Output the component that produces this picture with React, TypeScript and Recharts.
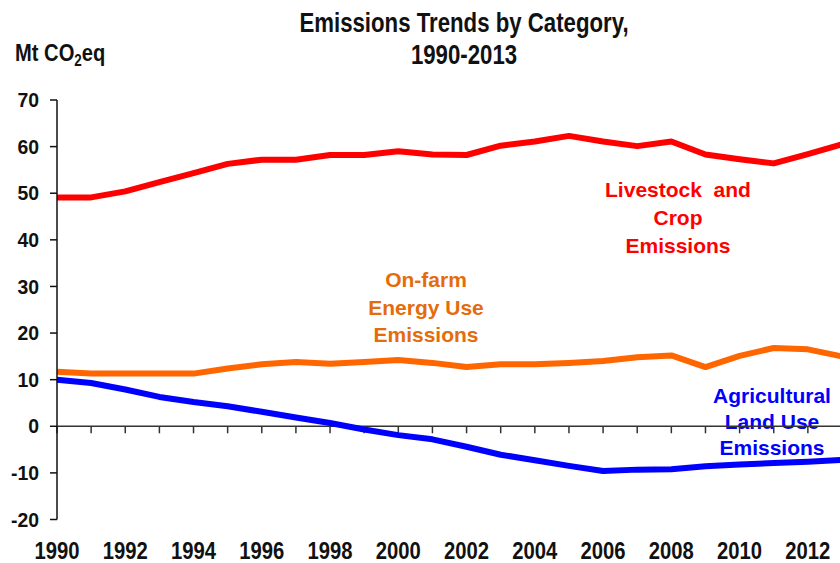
import React from 'react';
import { LineChart, Line, XAxis, YAxis, ReferenceLine } from 'recharts';

// Mt CO2eq per year
const years = [
  1990, 1991, 1992, 1993, 1994, 1995, 1996, 1997, 1998, 1999, 2000, 2001,
  2002, 2003, 2004, 2005, 2006, 2007, 2008, 2009, 2010, 2011, 2012, 2013,
];
const livestockCrop = [
  49.1, 49.1, 50.4, 52.4, 54.3, 56.3, 57.2, 57.2, 58.2, 58.2, 59.0, 58.3,
  58.2, 60.2, 61.1, 62.3, 61.1, 60.1, 61.1, 58.3, 57.3, 56.4, 58.4, 60.5,
];
const onFarmEnergy = [
  11.7, 11.3, 11.3, 11.3, 11.3, 12.4, 13.3, 13.8, 13.4, 13.8, 14.2, 13.6,
  12.7, 13.3, 13.3, 13.6, 14.0, 14.8, 15.2, 12.7, 15.1, 16.8, 16.5, 15.0,
];
const landUse = [
  10.0, 9.3, 7.9, 6.3, 5.2, 4.3, 3.1, 1.9, 0.7, -0.7, -1.9, -2.8,
  -4.4, -6.1, -7.3, -8.5, -9.6, -9.3, -9.2, -8.6, -8.2, -7.9, -7.6, -7.2,
];

const xTicks = [1990, 1992, 1994, 1996, 1998, 2000, 2002, 2004, 2006, 2008, 2010, 2012];
const yTicks = [-20, -10, 0, 10, 20, 30, 40, 50, 60, 70];

const data = years.map((year, i) => ({
  year,
  livestock: livestockCrop[i],
  energy: onFarmEnergy[i],
  land: landUse[i],
}));

const SANS = "'Liberation Sans', Arial, sans-serif";

const labelStyle = { fontFamily: SANS, fontWeight: 700, fontSize: 21 };

// multi-line centred caption
const Caption = ({ x, y, lines, color, gap }: { x: number; y: number; lines: string[]; color: string; gap: number }) => (
  <text x={x} y={y} textAnchor="middle" fill={color} style={labelStyle}>
    {lines.map((l, i) => (
      <tspan key={l} x={x} dy={i === 0 ? 0 : gap} style={{ whiteSpace: 'pre' }}>
        {l}
      </tspan>
    ))}
  </text>
);

// condensed heading text (no narrow face available, so squeeze horizontally)
const Narrow = ({ x, y, sx, size, anchor, dy, children }: { x: number; y: number; sx: number; size: number; anchor?: string; dy?: string; children: React.ReactNode }) => (
  <text
    transform={`translate(${x} ${y}) scale(${sx} 1)`}
    textAnchor={anchor || 'start'}
    dy={dy}
    fill="#111"
    style={{ fontFamily: SANS, fontWeight: 700, fontSize: size }}
  >
    {children}
  </text>
);

const YearTick = (props: any) => (
  <Narrow x={props.x} y={props.y} sx={0.88} size={23} anchor="middle" dy="0.71em">
    {props.payload.value}
  </Narrow>
);

const ValueTick = (props: any) => (
  <Narrow x={props.x} y={props.y} sx={0.97} size={20} anchor="end" dy="0.355em">
    {props.payload.value}
  </Narrow>
);

const App = () => {
  return (
    <div style={{ position: 'absolute', left: 0, top: 0, width: 840, height: 563, overflow: 'hidden', background: '#fff' }}>
      <svg width={840} height={563} style={{ position: 'absolute', left: 0, top: 0 }}>
        <Narrow x={464} y={32} sx={0.823} size={27} anchor="middle">Emissions Trends by Category,</Narrow>
        <Narrow x={464} y={64} sx={0.823} size={27} anchor="middle">1990-2013</Narrow>
        <Narrow x={15} y={61} sx={0.84} size={24}>
          Mt CO
          <tspan dy={5} style={{ fontSize: 16 }}>2</tspan>
          <tspan dy={-5}>eq</tspan>
        </Narrow>
        <Caption x={678} y={197} lines={['Livestock  and', 'Crop', 'Emissions']} color="#ff0000" gap={28} />
        <Caption x={426} y={287} lines={['On-farm', 'Energy Use', 'Emissions']} color="#e46c0a" gap={27.5} />
        <Caption x={772} y={403} lines={['Agricultural', 'Land Use', 'Emissions']} color="#0000ff" gap={26} />
      </svg>
      <div style={{ position: 'absolute', left: 0, top: 0 }}>
        <LineChart width={842} height={563} data={data} margin={{ top: 100, right: 0, bottom: 0, left: 0 }}>
          <XAxis
            dataKey="year"
            type="number"
            domain={[1990, 2013]}
            ticks={xTicks}
            interval={0}
            axisLine={false}
            tickLine={false}
            tickSize={0}
            tickMargin={23}
            height={43.5}
            tick={YearTick}
          />
          <YAxis
            type="number"
            domain={[-20, 70]}
            ticks={yTicks}
            interval={0}
            width={57}
            tickSize={7}
            tickMargin={11}
            axisLine={{ stroke: '#111', strokeWidth: 1.5 }}
            tickLine={{ stroke: '#111', strokeWidth: 1.5 }}
            tick={ValueTick}
          />
          <ReferenceLine y={0} stroke="#333" strokeWidth={1.5} />
          {years.map((yr) => (
            <ReferenceLine
              key={yr}
              segment={[{ x: yr, y: 0 }, { x: yr, y: -1.5 }]}
              stroke="#333"
              strokeWidth={1.5}
            />
          ))}
          <Line type="linear" dataKey="livestock" stroke="#ff0000" strokeWidth={6} dot={false} isAnimationActive={false} strokeLinejoin="round" />
          <Line type="linear" dataKey="energy" stroke="#ff6600" strokeWidth={6} dot={false} isAnimationActive={false} strokeLinejoin="round" />
          <Line type="linear" dataKey="land" stroke="#0000ff" strokeWidth={6} dot={false} isAnimationActive={false} strokeLinejoin="round" />
        </LineChart>
      </div>
    </div>
  );
};

export default App;
